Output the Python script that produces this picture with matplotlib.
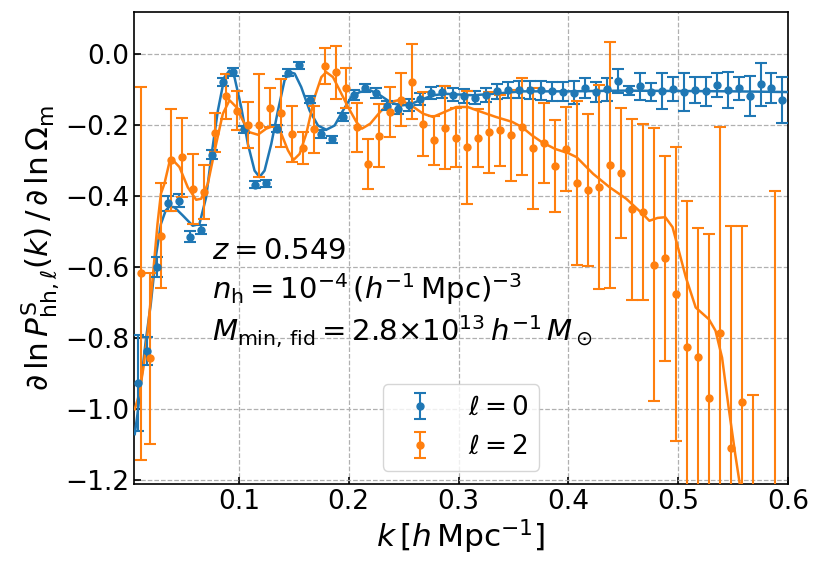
import numpy as np
import matplotlib
matplotlib.use("Agg")
import matplotlib.pyplot as plt

# ---------------- data ----------------
k_l0 = [0.0078, 0.0161, 0.0257, 0.0355, 0.0454, 0.0553, 0.0652, 0.0752, 0.0851, 0.0951,
        0.105, 0.115, 0.125, 0.135, 0.145, 0.155, 0.165, 0.175, 0.185, 0.195,
        0.205, 0.215, 0.225, 0.235, 0.245, 0.255, 0.265, 0.275, 0.285, 0.295,
        0.305, 0.315, 0.325, 0.335, 0.345, 0.355, 0.365, 0.375, 0.385, 0.395,
        0.405, 0.415, 0.425, 0.435, 0.445, 0.455, 0.465, 0.475, 0.485, 0.495,
        0.505, 0.515, 0.525, 0.535, 0.545, 0.555, 0.565, 0.575, 0.585, 0.595]
y_l0 = [-0.927, -0.836, -0.599, -0.421, -0.414, -0.515, -0.495, -0.284, -0.080, -0.052,
        -0.213, -0.368, -0.365, -0.211, -0.054, -0.033, -0.130, -0.226, -0.241, -0.178,
        -0.117, -0.096, -0.110, -0.146, -0.156, -0.144, -0.127, -0.110, -0.108, -0.115,
        -0.119, -0.124, -0.117, -0.106, -0.103, -0.101, -0.103, -0.103, -0.106, -0.107,
        -0.110, -0.097, -0.108, -0.100, -0.077, -0.103, -0.092, -0.107, -0.105, -0.099,
        -0.108, -0.103, -0.106, -0.089, -0.103, -0.097, -0.119, -0.086, -0.096, -0.131]
e_l0 = [0.135, 0.040, 0.028, 0.021, 0.018, 0.015, 0.013, 0.013, 0.012, 0.011,
        0.010, 0.010, 0.010, 0.010, 0.010, 0.010, 0.010, 0.010, 0.010, 0.012,
        0.014, 0.012, 0.014, 0.013, 0.015, 0.016, 0.017, 0.017, 0.018, 0.018,
        0.019, 0.019, 0.020, 0.021, 0.022, 0.023, 0.025, 0.026, 0.027, 0.027,
        0.033, 0.029, 0.027, 0.032, 0.035, 0.012, 0.038, 0.025, 0.050, 0.033,
        0.053, 0.037, 0.041, 0.034, 0.050, 0.032, 0.056, 0.061, 0.042, 0.064]

k_l2 = [0.0105, 0.0193, 0.0290, 0.0385, 0.0484, 0.0583, 0.0682, 0.0782, 0.0881, 0.0981,
        0.108, 0.118, 0.128, 0.138, 0.148, 0.158, 0.168, 0.178, 0.188, 0.198,
        0.208, 0.218, 0.228, 0.238, 0.248, 0.258, 0.268, 0.278, 0.288, 0.298,
        0.308, 0.318, 0.328, 0.338, 0.348, 0.358, 0.368, 0.378, 0.388, 0.398,
        0.408, 0.418, 0.428, 0.438, 0.448, 0.458, 0.468, 0.478, 0.488, 0.498,
        0.508, 0.518, 0.528, 0.538, 0.548, 0.558, 0.568, 0.578, 0.588]
y_l2 = [-0.618, -0.857, -0.512, -0.299, -0.292, -0.380, -0.389, -0.222, -0.120, -0.160,
        -0.200, -0.202, -0.152, -0.166, -0.226, -0.265, -0.212, -0.034, -0.053, -0.096,
        -0.207, -0.310, -0.231, -0.164, -0.129, -0.079, -0.197, -0.244, -0.208, -0.236,
        -0.263, -0.238, -0.221, -0.215, -0.230, -0.205, -0.266, -0.251, -0.316, -0.268,
        -0.364, -0.383, -0.376, -0.313, -0.336, -0.438, -0.445, -0.594, -0.576, -0.676,
        -0.824, -0.853, -0.968, -0.787, -1.108, -0.979, -1.500, -2.200, -1.600]
e_l2 = [0.525, 0.241, 0.147, 0.143, 0.110, 0.098, 0.075, 0.055, 0.063, 0.056,
        0.065, 0.146, 0.055, 0.096, 0.079, 0.046, 0.066, 0.051, 0.075, 0.056,
        0.069, 0.070, 0.088, 0.071, 0.074, 0.106, 0.090, 0.069, 0.116, 0.084,
        0.159, 0.082, 0.114, 0.100, 0.128, 0.136, 0.170, 0.113, 0.129, 0.118,
        0.231, 0.214, 0.287, 0.346, 0.182, 0.255, 0.248, 0.384, 0.288, 0.413,
        0.411, 0.363, 0.461, 0.580, 0.624, 0.493, 0.540, 0.500, 1.215]

# smooth model curves
kc_l0 = [0.0052, 0.0077, 0.0107, 0.0152, 0.0198, 0.0243, 0.029, 0.0334, 0.0368, 0.0413,
         0.0489, 0.058, 0.0641, 0.0702, 0.0748, 0.0809, 0.0869, 0.0915, 0.096, 0.1021,
         0.1082, 0.1143, 0.1188, 0.1234, 0.1295, 0.1356, 0.1416, 0.1462, 0.1508, 0.1568,
         0.1644, 0.172, 0.1796, 0.1872, 0.1948, 0.2024, 0.21, 0.2196, 0.2286, 0.2377,
         0.2467, 0.2557, 0.2648, 0.2768, 0.2889, 0.313, 0.331, 0.358, 0.40, 0.45,
         0.50, 0.55, 0.60]
yc_l0 = [-1.07, -1.014, -0.93, -0.808, -0.704, -0.573, -0.479, -0.441, -0.430, -0.432,
         -0.455, -0.484, -0.479, -0.404, -0.291, -0.160, -0.066, -0.047, -0.066, -0.150,
         -0.254, -0.329, -0.347, -0.329, -0.254, -0.160, -0.075, -0.052, -0.056, -0.094,
         -0.160, -0.202, -0.214, -0.202, -0.160, -0.122, -0.108, -0.103, -0.117, -0.136,
         -0.146, -0.143, -0.131, -0.117, -0.113, -0.117, -0.113, -0.106, -0.106, -0.104,
         -0.105, -0.106, -0.108]

kc_l2 = [0.0052, 0.0092, 0.0131, 0.0168, 0.0213, 0.0259, 0.0290, 0.0322, 0.0368, 0.0398,
         0.0459, 0.0535, 0.0611, 0.0657, 0.0717, 0.0793, 0.0854, 0.0915, 0.0976, 0.1036,
         0.1097, 0.1173, 0.1249, 0.1325, 0.1386, 0.1447, 0.1498, 0.1553, 0.1614, 0.169,
         0.1751, 0.1796, 0.1857, 0.1918, 0.1994, 0.207, 0.212, 0.2196, 0.2286, 0.2377,
         0.2467, 0.2572, 0.2678, 0.2768, 0.2873, 0.2979, 0.3084, 0.319, 0.334, 0.349,
         0.358, 0.367, 0.376, 0.388, 0.400, 0.4075, 0.4226, 0.4377, 0.4527, 0.4678,
         0.4738, 0.4813, 0.4883, 0.4949, 0.4994, 0.507, 0.516, 0.528, 0.534, 0.540,
         0.546, 0.552, 0.5566, 0.560]
yc_l2 = [-1.0, -0.958, -0.883, -0.789, -0.639, -0.479, -0.394, -0.366, -0.305, -0.299,
         -0.319, -0.376, -0.411, -0.408, -0.366, -0.254, -0.169, -0.131, -0.150, -0.188,
         -0.221, -0.228, -0.211, -0.202, -0.225, -0.272, -0.299, -0.282, -0.225, -0.122,
         -0.066, -0.052, -0.066, -0.103, -0.150, -0.192, -0.211, -0.197, -0.164, -0.136,
         -0.130, -0.146, -0.169, -0.178, -0.164, -0.150, -0.150, -0.162, -0.178, -0.192,
         -0.207, -0.230, -0.249, -0.268, -0.280, -0.291, -0.338, -0.376, -0.408, -0.451,
         -0.470, -0.462, -0.460, -0.488, -0.540, -0.629, -0.714, -0.747, -0.779, -0.855,
         -0.996, -1.127, -1.22, -1.30]

labels = [r"$\ell=0$", r"$\ell=2$"]
xticks = [0.1, 0.2, 0.3, 0.4, 0.5, 0.6]
yticks = [0.0, -0.2, -0.4, -0.6, -0.8, -1.0, -1.2]

# ---------------- plot ----------------
fig = plt.figure(figsize=(8.22, 5.74), dpi=100)
ax = fig.add_axes([0.163, 0.157, 0.7956, 0.822])

c0, c1 = "#1f77b4", "#ff7f0e"
ax.plot(kc_l0, yc_l0, color=c0, lw=1.8, zorder=3)
ax.plot(kc_l2, yc_l2, color=c1, lw=1.8, zorder=3)
ax.errorbar(k_l0, y_l0, yerr=e_l0, fmt="o", color=c0, ms=5, elinewidth=1.5,
            capsize=4.5, capthick=1.5, label=labels[0], zorder=4)
ax.errorbar(k_l2, y_l2, yerr=e_l2, fmt="o", color=c1, ms=5, elinewidth=1.5,
            capsize=4.5, capthick=1.5, label=labels[1], zorder=4)

ax.set_xlim(0.0045, 0.6)
ax.set_ylim(-1.21, 0.117)
ax.set_xticks(xticks)
ax.set_yticks(yticks)
ax.set_xticklabels([f"{t:.1f}" for t in xticks])
ax.set_yticklabels([f"{t:.1f}".replace("-", "\u2212") for t in yticks])
ax.tick_params(direction="in", labelsize=19, length=5, width=1.2)
ax.grid(True, ls="--", color="#b0b0b0", lw=0.9)
ax.set_axisbelow(True)

ax.set_xlabel(r"$k\,[h\,{\rm Mpc}^{-1}]$", fontsize=22.5, labelpad=2)
ax.set_ylabel(r"$\partial\,\ln P^{\rm S}_{{\rm hh},\ell}(k)\,/\,\partial\,\ln\Omega_{\rm m}$",
              fontsize=22.5, labelpad=2)

ax.text(0.120, 0.477, r"$z=0.549$", transform=ax.transAxes, fontsize=21, va="baseline")
ax.text(0.120, 0.391, r"$n_{\rm h}=10^{-4}\,(h^{-1}\,{\rm Mpc})^{-3}$",
        transform=ax.transAxes, fontsize=21, va="baseline")
ax.text(0.120, 0.302, r"$M_{\rm min,\,fid}=2.8{\times}10^{13}\,h^{-1}\,M_\odot$",
        transform=ax.transAxes, fontsize=21, va="baseline")

ax.legend(loc="lower center", bbox_to_anchor=(0.5, 0.0), fontsize=19)

for s in ax.spines.values():
    s.set_linewidth(1.2)

fig.savefig("out.png", dpi=100)
